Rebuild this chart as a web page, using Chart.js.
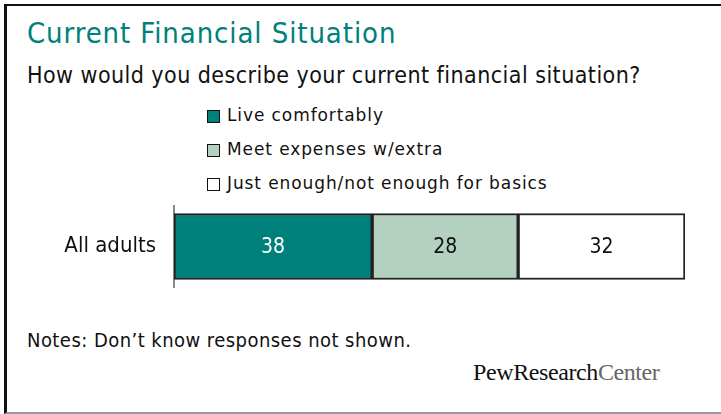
<!DOCTYPE html>
<html>
<head>
<meta charset="utf-8">
<script src="https://cdn.jsdelivr.net/npm/chart.js@4.4.1/dist/chart.umd.min.js"></script>
<style>
  html, body { margin: 0; padding: 0; background: #fff; }
  body { width: 721px; height: 414px; position: relative; overflow: hidden; }
  .frame {
    position: absolute; left: 4px; top: 4px; width: 715px; height: 406px;
    border-left: 3px solid #111; border-top: 2px solid #111;
    border-right: 1px solid #ccc; border-bottom: 2px solid #999;
  }
  .narrow { font-family: "Liberation Sans Narrow", "DejaVu Sans Condensed", "Liberation Sans", sans-serif; }
  #title { position: absolute; left: 27px; top: 16px; font-size: 29px; letter-spacing: 0.9px; color: #00807b; white-space: nowrap; }
  #subtitle { position: absolute; left: 27px; top: 62px; font-size: 23px; letter-spacing: 0.45px; color: #111; white-space: nowrap; }
  #notes { position: absolute; left: 27px; top: 328px; font-size: 20px; letter-spacing: 0.45px; color: #111; white-space: nowrap; }
  #logo { position: absolute; left: 473px; top: 359px; font-family: "Liberation Serif", "DejaVu Serif", serif;
          font-size: 24px; letter-spacing: -0.4px; color: #111; white-space: nowrap; }
  #logo span { color: #666; }
  #legend { position: absolute; left: 207px; top: 105px; font-family: "DejaVu Sans", sans-serif; font-size: 17px; letter-spacing: 0.9px; color: #111; }
  #legend div { height: 34px; display: flex; align-items: flex-start; }
  #legend i { display: inline-block; width: 11px; height: 11px; border: 1.5px solid #111; margin: 5px 7px 0 0; }
  canvas { position: absolute; left: 0; top: 0; }
</style>
</head>
<body>
<div class="frame"></div>
<div id="title" class="narrow">Current Financial Situation</div>
<div id="subtitle" class="narrow">How would you describe your current financial situation?</div>
<div id="legend"></div>
<div id="notes" class="narrow">Notes: Don’t know responses not shown.</div>
<div id="logo">PewResearch<span>Center</span></div>
<canvas id="chart" width="721" height="414"></canvas>
<script>
const categories = ['All adults'];
const seriesNames = ['Live comfortably', 'Meet expenses w/extra', 'Just enough/not enough for basics'];
const liveComfortably = [38];
const meetExpenses = [28];
const justEnough = [32];
const seriesColors = ['#00807b', '#b3d0c0', '#ffffff'];
const labelColors = ['#ffffff', '#111111', '#111111'];

const narrowFont = '"Liberation Sans Narrow", "DejaVu Sans Condensed", "Liberation Sans", sans-serif';

const values = [liveComfortably, meetExpenses, justEnough];
const datasets = seriesNames.map((name, i) => ({
    label: name,
    data: values[i],
    backgroundColor: seriesColors[i],
    borderColor: '#222',
    borderWidth: 2,
    borderSkipped: false,
    barThickness: 66
}));

// legend from the datasets
const legendEl = document.getElementById('legend');
datasets.forEach(ds => {
    const row = document.createElement('div');
    row.innerHTML = '<i style="background:' + ds.backgroundColor + '"></i>' + ds.label;
    legendEl.appendChild(row);
});

const valueLabels = {
    id: 'valueLabels',
    afterDatasetsDraw(chart) {
        const ctx = chart.ctx;
        ctx.save();
        ctx.font = '21px ' + narrowFont;
        ctx.textAlign = 'center';
        ctx.textBaseline = 'middle';
        chart.data.datasets.forEach((ds, i) => {
            chart.getDatasetMeta(i).data.forEach((bar, j) => {
                const c = bar.getCenterPoint();
                ctx.fillStyle = labelColors[i];
                ctx.fillText(ds.data[j], c.x, c.y + 1);
            });
        });
        ctx.restore();
    }
};

new Chart(document.getElementById('chart'), {
    type: 'bar',
    data: { labels: categories, datasets: datasets },
    plugins: [valueLabels],
    options: {
        indexAxis: 'y',
        responsive: false,
        animation: false,
        layout: { padding: { left: 0, right: 36, top: 206, bottom: 127 } },
        plugins: { legend: { display: false }, tooltip: { enabled: false } },
        scales: {
            x: { stacked: true, display: false, min: 0, max: 98 },
            y: {
                stacked: true,
                afterFit(scale) { scale.width = 174; },
                grid: { display: false, drawTicks: false },
                border: { display: true, color: '#888', width: 2 },
                ticks: { color: '#111', padding: 18, font: { family: narrowFont, size: 22 } }
            }
        }
    }
});
</script>
</body>
</html>
